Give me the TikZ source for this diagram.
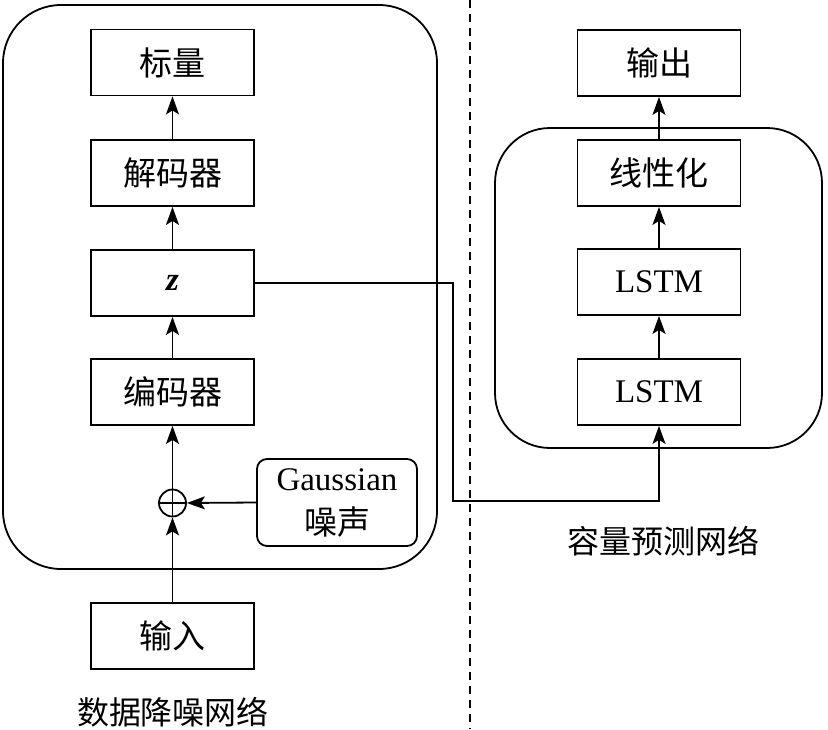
\documentclass[tikz,border=0pt]{standalone}
\usepackage{fontspec}
\setmainfont{Liberation Serif}
\newfontfamily\cjk{Noto Sans CJK SC}
\usetikzlibrary{arrows.meta}
\begin{document}
\begin{tikzpicture}[x=1pt,y=-1pt,
  lw/.style={line width=1.8pt},
  box/.style={draw,lw,minimum width=163pt,minimum height=66pt,inner sep=0pt,font=\fontsize{33}{38}\selectfont},
  gbox/.style={box,rounded corners=10pt,minimum width=160pt,minimum height=87pt,align=center,font=\fontsize{33}{44}\selectfont},
  arr/.style={lw,-{Stealth[length=18pt,width=13pt,inset=4pt]}},
  group/.style={draw,lw,rounded corners=58pt},
  lbl/.style={font=\fontsize{32}{38}\selectfont,inner sep=0pt},
  plus/.style={draw,circle,lw,minimum size=27pt,inner sep=0pt}]
\useasboundingbox (0,0) rectangle (828,729);
% groups
\draw[group] (3,5) rectangle (437,569);
\draw[group,rounded corners=55pt] (495,128) rectangle (822,448);
\draw[line width=1.4pt,dash pattern=on 8pt off 6pt] (470,0) -- (470,729);
% left column
\node[box] (s) at (172.5,62.5) {\cjk 标量};
\node[box] (d) at (172.5,173) {\cjk 解码器};
\node[box] (z) at (172.5,283) {\textbf{\textit{z}}};
\node[box] (e) at (172.5,392) {\cjk 编码器};
\node[box] (in) at (172.5,636) {\cjk 输入};
\node[plus] (p) at (172.5,503) {};
\draw[lw] (p.north) -- (p.south) (p.west) -- (p.east);
\node[gbox] (g) at (337,502.5) {Gaussian\\{\cjk 噪声}};
% right column
\node[box] (o) at (659,63) {\cjk 输出};
\node[box] (l) at (659,173) {\cjk 线性化};
\node[box] (l1) at (659,282) {LSTM};
\node[box] (l2) at (659,392) {LSTM};
% arrows
\draw[arr] (d.north) -- (s.south);
\draw[arr] (z.north) -- (d.south);
\draw[arr] (e.north) -- (z.south);
\draw[arr] (p.north) -- (e.south);
\draw[arr] (in.north) -- (p.south);
\draw[arr] (g.west) -- (p.east);
\draw[arr] (l.north) -- (o.south);
\draw[arr] (l1.north) -- (l.south);
\draw[arr] (l2.north) -- (l1.south);
\coordinate (k1) at (453,501);
\draw[arr] (z.east) -| (k1) -| (l2.south);
% labels
\node[lbl] (t1) at (173,712) {\cjk 数据降噪网络};
\node[lbl] (t2) at (663,541) {\cjk 容量预测网络};
\end{tikzpicture}
\end{document}
